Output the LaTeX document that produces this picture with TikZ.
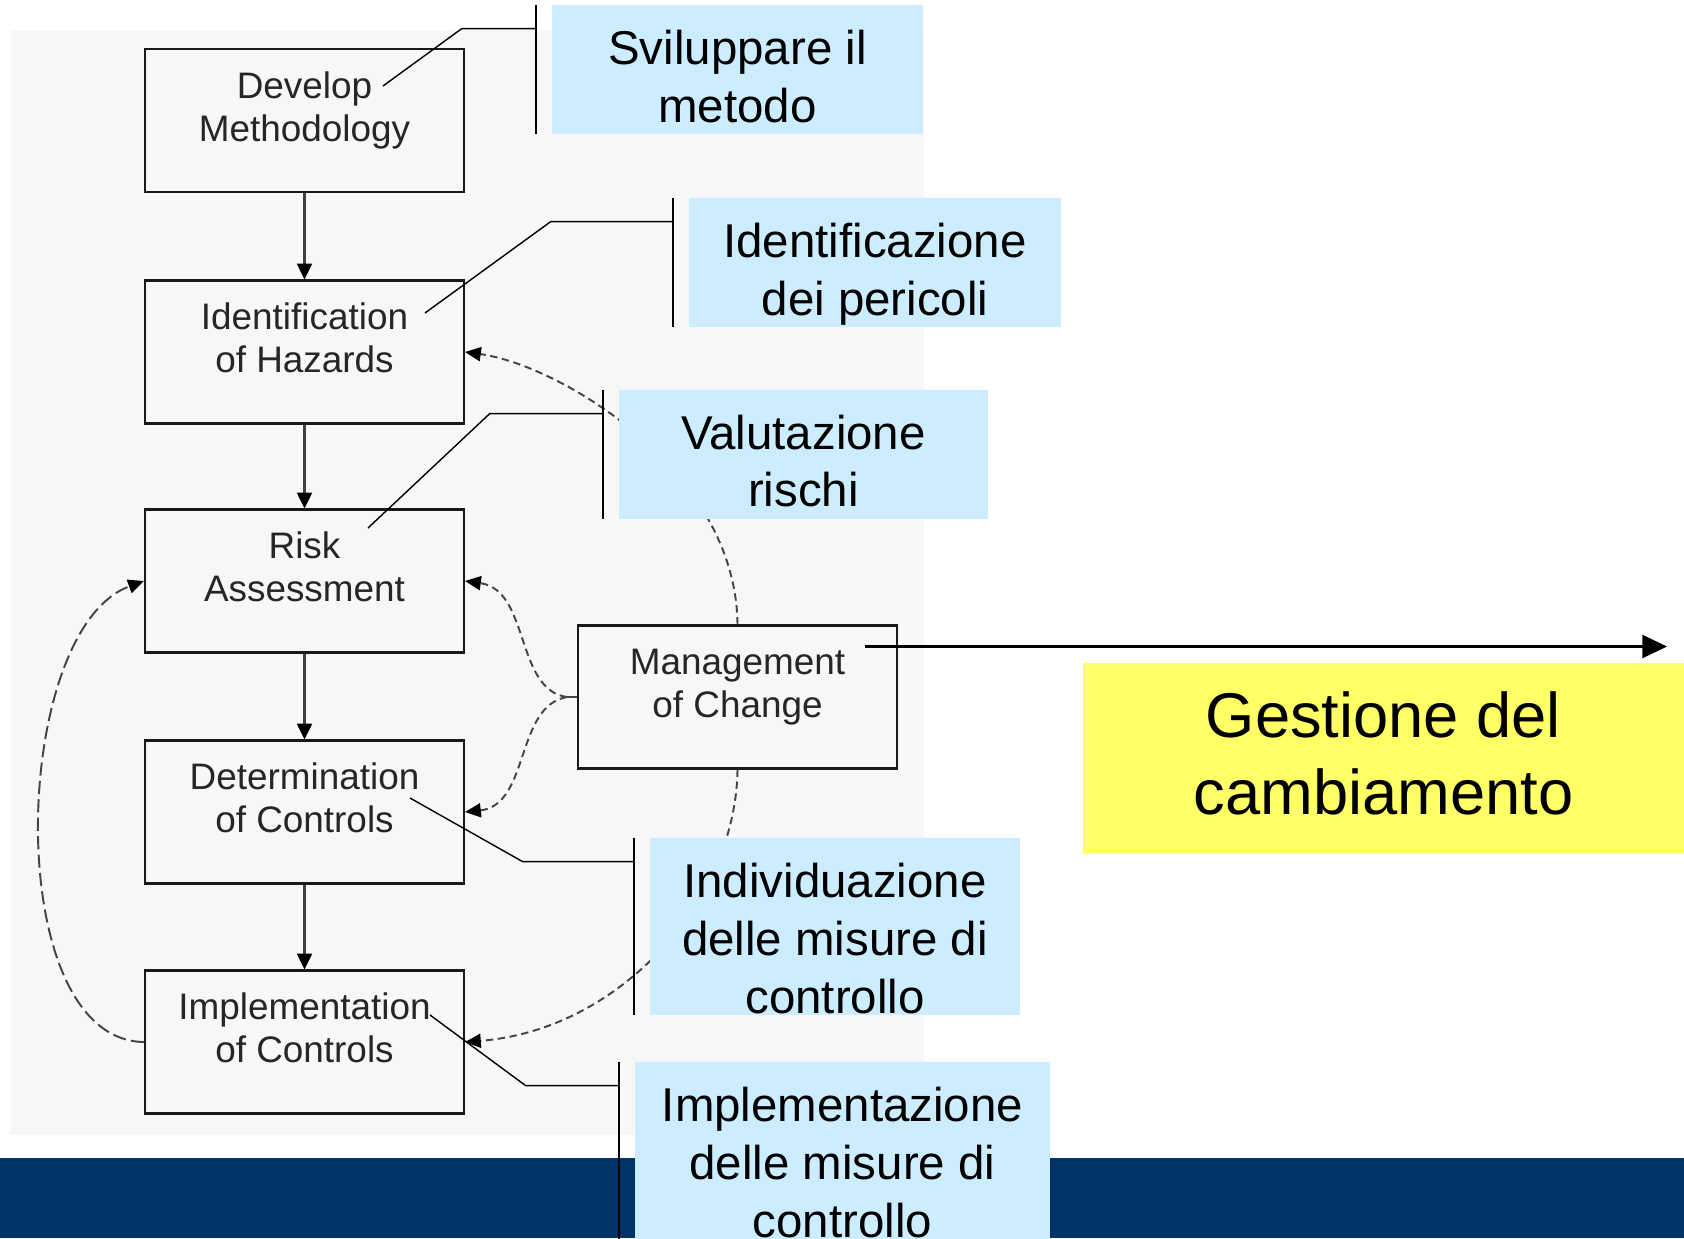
\documentclass[tikz,border=0pt]{standalone}
\usepackage{fontspec}
\setmainfont{Liberation Sans}
\usetikzlibrary{arrows.meta,calc,positioning}
\definecolor{bggray}{HTML}{F7F7F7}
\definecolor{lblue}{HTML}{CCECFF}
\definecolor{hiyellow}{HTML}{FFFF66}
\definecolor{navy}{HTML}{003366}
\definecolor{dashgray}{HTML}{444444}
\tikzset{
  flow/.style={draw=black!90,line width=1.2pt,fill=bggray,minimum width=6.38cm,
    minimum height=2.86cm,inner sep=0pt,align=center,text=black!85,
    font=\fontsize{21}{24.5}\selectfont,execute at end node={\rule[-16pt]{0pt}{16pt}}},
  tag/.style={fill=lblue,inner sep=0pt,align=center,font=\fontsize{27}{33}\selectfont,
    text height=61pt},
  feedback/.style={dashgray,line width=1.1pt,dash pattern=on 4.2pt off 2.6pt,
    -{Triangle[length=9pt,width=8pt,color=black]}},
  lead/.style={line width=0.8pt},
  bar/.style={line width=1.2pt}
}
\tikzstyle{seq} = [line width=1.3pt,draw=black!75,-{Triangle[length=9pt,width=8.5pt,color=black]}]

\begin{document}
\begin{tikzpicture}[x=0.02cm,y=-0.02cm]
  \useasboundingbox (0,0) rectangle (1684,1238);
  \clip (0,0) rectangle (1684,1238);
  \fill[bggray] (10,30) rectangle (924,1135);
  \fill[navy] (0,1158) rectangle (1684,1238);

  \node[flow] (dm) at (304.5,120.5) {Develop\\Methodology};
  \node[flow] (ih) at (304.5,352) {Identification\\of Hazards};
  \node[flow] (ra) at (304.5,581) {Risk\\Assessment};
  \node[flow] (dc) at (304.5,812) {Determination\\of Controls};
  \node[flow] (ic) at (304.5,1042) {Implementation\\of Controls};
  \node[flow] (mc) at (737.5,697) {Management\\of Change};

  \draw[seq] (dm) -- (ih);
  \draw[seq] (ih) -- (ra);
  \draw[seq] (ra) -- (dc);
  \draw[seq] (dc) -- (ic);

  \draw[feedback] (mc.north) .. controls (736,470) and (560,365) .. (ih.east);
  \draw[line width=1.3pt,dashgray] (mc.west) -- ++(-10,0) coordinate (fork);
  \draw[feedback] (fork) .. controls (515,690) and (530,590) .. (ra.east);
  \draw[feedback] (fork) .. controls (515,706) and (530,805) .. (dc.east);
  \draw[feedback] (mc.south) .. controls (736,900) and (620,1030) .. (ic.east);
  \draw[feedback,dash pattern=on 7.5pt off 3pt] (ic.west) .. controls (0,1040) and (10,630) .. (ra.west);

  \coordinate (mc-out) at (865,646.5);
  \coordinate (gc-tip) at (1667,646.5);
  \draw[line width=1.6pt,-{Triangle[length=14pt,width=13pt]}] (mc-out) -- (gc-tip);
  \node[fill=hiyellow,minimum width=12.02cm,minimum height=3.82cm,inner sep=0pt,align=center,
    font=\fontsize{36}{44}\selectfont] (gc) at (1383.5,758.5) {Gestione del\\cambiamento\rule[-6.5pt]{0pt}{6.5pt}};

  \node[tag,minimum width=7.42cm,minimum height=2.58cm] (sv) at (737.5,69.5) {Sviluppare il\\metodo};
  \node[tag,minimum width=7.44cm,minimum height=2.58cm,text height=66pt] (idp) at (875,262.5) {Identificazione\\dei pericoli};
  \node[tag,minimum width=7.38cm,minimum height=2.58cm,text height=60pt] (vr) at (803.5,454.5) {Valutazione\\rischi};
  \node[tag,minimum width=7.4cm,minimum height=3.54cm,text height=99pt] (imc) at (835,926.5) {Individuazione\\delle misure di\\controllo};
  \node[tag,minimum width=8.3cm,minimum height=4cm,text height=86pt] (imp) at (842.5,1162) {Implementazione\\delle misure di\\controllo};

  \foreach \b in {sv,idp,vr,imc,imp}{
    \draw[bar] ([xshift=-0.32cm]\b.north west) -- ([xshift=-0.32cm]\b.south west);
    \coordinate (\b-hook) at ([xshift=-0.32cm,yshift=-0.48cm]\b.north west);
  }
  \coordinate (dm-tip) at (383,86);
  \coordinate (ih-tip) at (425,313);
  \coordinate (ra-tip) at (368,528);
  \coordinate (dc-tip) at (410,798);
  \coordinate (ic-tip) at (430,1015);
  \draw[lead] (sv-hook) -- ++(-74,0) -- (dm-tip);
  \draw[lead] (idp-hook) -- ++(-122,0) -- (ih-tip);
  \draw[lead] (vr-hook) -- ++(-113,0) -- (ra-tip);
  \draw[lead] (imc-hook) -- ++(-111,0) -- (dc-tip);
  \draw[lead] (imp-hook) -- ++(-93,0) -- (ic-tip);
\end{tikzpicture}
\end{document}
